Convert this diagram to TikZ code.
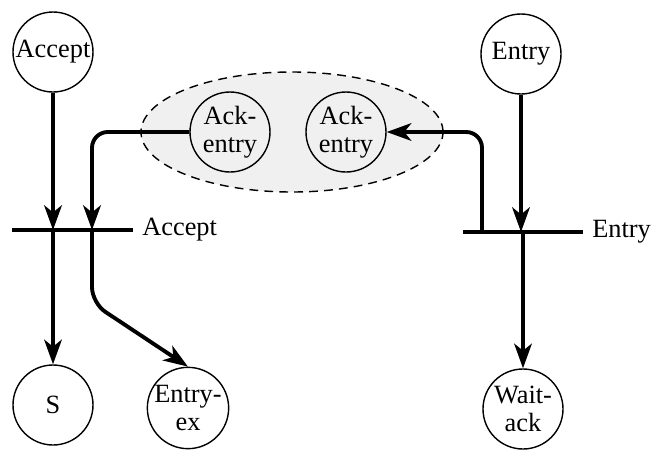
\documentclass[tikz,border=0pt]{standalone}
\usepackage{fontspec}
\setmainfont{Liberation Serif}
\usepackage{tikz}
\usetikzlibrary{arrows, arrows.meta}
\definecolor{haze}{RGB}{240, 240, 240}

\begin{document}
\begin{tikzpicture}[
        place/.style={draw, circle, line width=0.8pt, minimum size=1.6cm, inner sep=0pt, align=center, font=\fontsize{15}{16}\selectfont},
        bar/.style={line width=2.6pt},
        flow/.style={line width=2.2pt, -{Stealth[length=14pt, width=10pt, inset=4pt]}, rounded corners=9pt},
        barlabel/.style={right, inner sep=0pt, xshift=4pt, font=\fontsize{15}{16}\selectfont}]
            \useasboundingbox (0.00, 0.00) rectangle (13.16, 9.02);
            \filldraw[color=black, fill=haze, dash pattern=on 5pt off 3.5pt, line width=0.8pt] ( 5.84, 6.38) ellipse (3.02 and 1.20);
            \node[place] (accept)   at ( 1.06, 7.98) {Accept};
            \node[place] (entry)    at (10.42, 7.94) {Entry};
            \node[place] (ackA)     at ( 4.60, 6.38) {Ack-\\entry};
            \node[place] (ackB)     at ( 6.92, 6.38) {Ack-\\entry};
            \node[place] (s)        at ( 1.06, 0.92) {S};
            \node[place] (entryex)  at ( 3.76, 0.86) {Entry-\\ex};
            \node[place] (waitack)  at (10.46, 0.84) {Wait-\\ack};
            \coordinate (acceptL)   at ( 0.24, 4.42);
            \coordinate (acceptR)   at ( 2.66, 4.42);
            \coordinate (acceptIn)  at ( 1.84, 4.42);
            \coordinate (entryL)    at ( 9.26, 4.38);
            \coordinate (entryR)    at (11.66, 4.38);
            \coordinate (entryOut)  at ( 9.64, 4.38);
            \draw[bar] (acceptL) -- (acceptR) node[barlabel] {Accept};
            \draw[bar] (entryL)  -- (entryR)  node[barlabel] {Entry};
            \draw[flow] (accept.south) -- (accept.south |- acceptL);
            \draw[flow] (ackA.west) -| (acceptIn);
            \draw[flow] (s.north |- acceptL) -- (s.north);
            \draw[flow] (acceptIn) -- ++(0, -1.46) -- (entryex.north);
            \draw[flow] (entry.south) -- (entry.south |- entryL);
            \draw[flow] (entryOut) |- (ackB.east);
            \draw[flow] (waitack.north |- entryL) -- (waitack.north);
        \end{tikzpicture}
\end{document}
